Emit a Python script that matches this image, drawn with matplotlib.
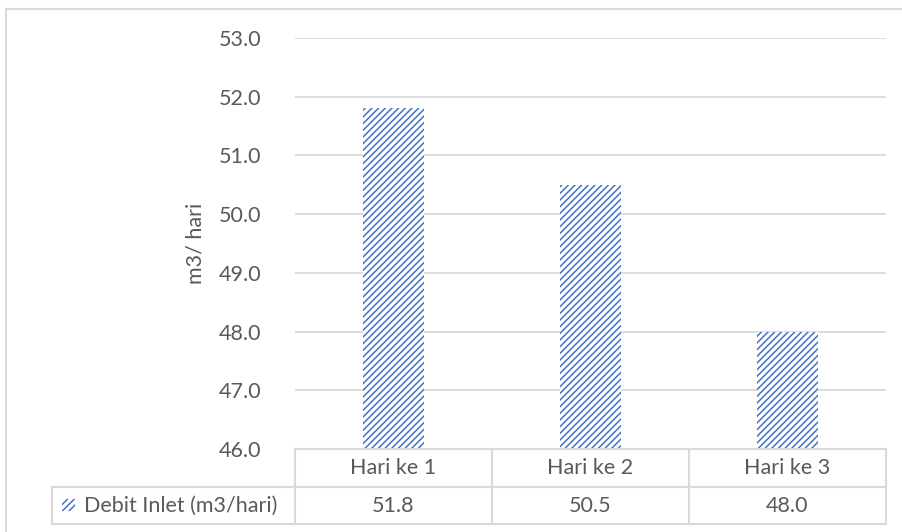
import matplotlib
matplotlib.use("Agg")
import matplotlib.pyplot as plt
from matplotlib.patches import Rectangle
from matplotlib.lines import Line2D

categories = ["Hari ke 1", "Hari ke 2", "Hari ke 3"]
debit_inlet = [51.8, 50.5, 48.0]
series_name = "Debit Inlet (m3/hari)"
y_label = "m3/ hari"
y_min, y_max = 46.0, 53.0

BLUE = "#4472C4"
GRID = "#D9D9D9"
TEXT = "#595959"
FONT = ["Lato", "DejaVu Sans"]
FS = 15.5

plt.rcParams["font.family"] = FONT
plt.rcParams["hatch.linewidth"] = 1.1

W, H = 902, 532
fig = plt.figure(figsize=(W / 100, H / 100), dpi=100)

# plot area in pixel terms
L, R, T, B = 295, 886, 38, 449
ax = fig.add_axes([L / W, 1 - B / H, (R - L) / W, (B - T) / H])

x = list(range(len(categories)))
bars = ax.bar(x, debit_inlet, width=0.31, bottom=0, color="white",
              edgecolor=BLUE, hatch="/////", linewidth=0, zorder=3)

ax.set_xlim(-0.5, len(categories) - 0.5)
ax.set_ylim(y_min, y_max)
ticks = [46 + i for i in range(8)]
ax.set_yticks(ticks)
ax.set_yticklabels([f"{t:.1f}" for t in ticks], color=TEXT, fontsize=FS)
ax.tick_params(axis="y", length=0, pad=24)
ax.set_xticks([])
ax.grid(axis="y", color=GRID, linewidth=1.3, zorder=0)
for s in ax.spines.values():
    s.set_visible(False)
ax.set_ylabel(y_label, color=TEXT, fontsize=FS)
ax.yaxis.set_label_coords((205 - L) / (R - L), 0.5)

# data table beneath the plot area
def fx(px):
    return px / W

def fy(py):
    return 1 - py / H

row1_bot, row2_bot = 487, 524
tbl_left = 52
col_edges = [L + i * (R - L) / len(categories) for i in range(len(categories) + 1)]
lw = 1.5
lines = [
    ((L, R), (B, B)),
    ((tbl_left, R), (row1_bot, row1_bot)),
    ((tbl_left, R), (row2_bot, row2_bot)),
    ((tbl_left, tbl_left), (row1_bot, row2_bot)),
]
for ce in col_edges:
    lines.append(((ce, ce), (B, row2_bot)))
for xs, ys in lines:
    fig.add_artist(Line2D([fx(v) for v in xs], [fy(v) for v in ys],
                          color=GRID, linewidth=lw, transform=fig.transFigure))

for i, cat in enumerate(categories):
    cx = (col_edges[i] + col_edges[i + 1]) / 2
    fig.text(fx(cx), fy((B + row1_bot) / 2), cat, ha="center", va="center",
             color=TEXT, fontsize=FS)
    fig.text(fx(cx), fy((row1_bot + row2_bot) / 2), f"{debit_inlet[i]:.1f}",
             ha="center", va="center", color=TEXT, fontsize=FS)

# legend key and series name
fig.add_artist(Rectangle((fx(62), fy(511)), 13 / W, 12 / H, facecolor="white",
                         edgecolor=BLUE, hatch="/////", linewidth=0,
                         transform=fig.transFigure))
fig.text(fx(84), fy((row1_bot + row2_bot) / 2), series_name, ha="left",
         va="center", color=TEXT, fontsize=FS)

# chart area outline
fig.add_artist(Line2D([fx(6), fx(6)], [fy(9), fy(H + 5)], color=GRID,
                      linewidth=1.5, transform=fig.transFigure))
fig.add_artist(Line2D([fx(6), fx(W + 5)], [fy(9), fy(9)], color=GRID,
                      linewidth=1.5, transform=fig.transFigure))

fig.savefig("out.png", dpi=100)
